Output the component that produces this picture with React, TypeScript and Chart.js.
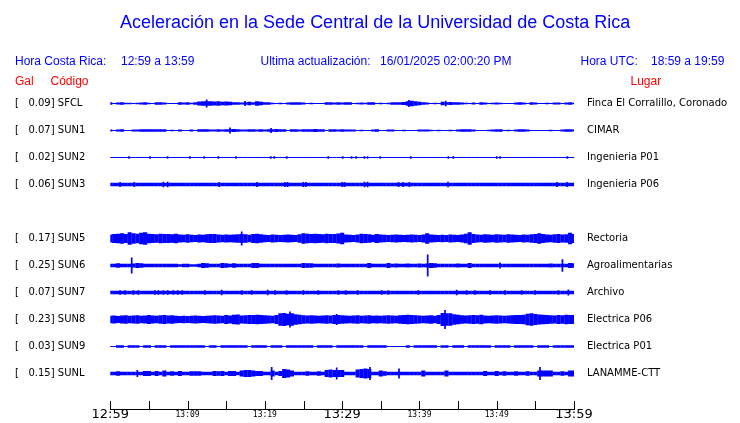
import React, { useEffect, useRef } from 'react';
import { Chart, registerables } from 'chart.js';

Chart.register(...registerables);

// ---------------- DATA ----------------
const CODES = ['SFCL', 'SUN1', 'SUN2', 'SUN3', 'SUN5', 'SUN6', 'SUN7', 'SUN8', 'SUN9', 'SUNL'];
const PEAK_GAL = [0.09, 0.07, 0.02, 0.06, 0.17, 0.25, 0.07, 0.23, 0.03, 0.15];
const PLACES = [
  'Finca El Corralillo, Coronado',
  'CIMAR',
  'Ingenieria P01',
  'Ingenieria P06',
  'Rectoria',
  'Agroalimentarias',
  'Archivo',
  'Electrica P06',
  'Electrica P01',
  'LANAMME-CTT',
];
const TIME_TICKS = ['12:59', '13:04', '13:09', '13:14', '13:19', '13:24', '13:29', '13:34', '13:39', '13:44', '13:49', '13:54', '13:59'];
const LABELED_TICKS = ['12:59', '13:09', '13:19', '13:29', '13:39', '13:49', '13:59'];
const MAJOR_TICKS = ['12:59', '13:29', '13:59'];

// envelope (half amplitude, mGal) of each trace, one value every 30 s from 12:59 to 13:59
const SFCL = [30,12,25,30,16,16,12,16,25,30, 16,12,30,30,25,12,12,12,30,25, 30,16,30,45,52,52,52,45,52,40, 45,40,30,30,25,30,40,30,52,40, 30,30,16,12,16,12,25,30,30,30, 25,12,16,12,12,12,30,30,25,30, 25,30,30,12,16,25,16,30,30,12, 16,12,16,30,30,30,35,52,60,50, 40,30,25,12,16,12,40,30,35,30, 30,25,16,12,25,12,30,25,12,16, 25,16,12,12,12,25,30,25,12,30, 25,12,12,16,12,25,25,12,25,30, 16];
const SUN1 = [25,12,25,30,12,12,25,25,30,30, 30,30,30,30,30,12,16,12,25,12, 12,25,12,30,30,30,25,25,30,25, 30,30,35,30,25,25,30,30,25,30, 25,30,30,35,30,30,12,30,30,25, 30,30,30,35,30,30,12,30,30,25, 30,25,25,25,12,16,12,12,25,30, 12,12,25,25,12,12,16,12,12,12, 25,25,25,16,12,16,12,12,16,12, 25,30,30,30,25,12,12,12,16,25, 30,30,12,16,12,25,30,30,25,12, 12,12,12,12,16,12,12,25,30,30, 25];
const SUN2 = [12,12,12,12,12,12,12,12,12,12, 12,12,12,12,12,12,12,12,12,12, 12,12,12,12,12,12,12,12,12,12, 12,12,12,12,12,12,12,12,12,12, 12,12,12,12,12,12,12,12,12,12, 12,12,12,12,12,12,12,12,12,12, 12,12,12,12,12,12,12,12,12,12, 12,12,12,12,12,12,12,12,12,12, 12,12,12,12,12,12,12,12,12,12, 12,12,12,12,12,12,12,12,12,12, 12,12,12,12,12,12,12,12,12,12, 12,12,12,12,12,12,12,12,12,12, 12];
const SUN3 = [37,37,37,37,37,37,37,37,37,37, 37,37,37,37,37,37,37,37,37,37, 37,37,37,37,37,37,37,37,37,37, 37,37,37,37,37,37,37,37,37,37, 37,37,37,37,37,37,37,37,37,37, 37,37,37,37,37,37,37,37,37,37, 37,37,37,37,37,37,37,37,37,37, 37,37,37,37,37,37,37,37,37,37, 37,37,37,37,37,37,37,37,37,37, 37,37,37,37,37,37,37,37,37,37, 37,37,37,37,37,37,37,37,37,37, 37,37,37,37,37,37,37,37,37,37, 37];
const SUN5 = [90,100,110,120,100,140,120,110,130,140, 110,100,95,110,100,105,95,110,90,85, 95,85,80,90,85,95,100,105,90,85, 90,85,90,95,100,95,85,100,110,95, 85,80,90,85,80,85,90,85,80,95, 120,110,105,110,100,95,110,105,100,115, 130,90,85,80,90,110,105,95,85,100, 90,85,80,85,90,85,80,85,90,85, 80,90,120,90,85,80,85,80,90,85, 80,90,110,140,100,90,85,95,90,85, 95,90,85,95,90,85,80,90,85,95, 100,120,100,90,85,95,100,90,95,130, 105];
const SUN6 = [38,38,50,38,38,38,45,55,50,38, 38,38,38,38,38,38,38,38,30,38, 38,30,30,38,55,50,38,38,38,55, 50,38,50,38,38,38,38,55,55,38, 38,38,38,38,38,38,38,38,38,38, 55,50,50,38,38,38,38,38,38,45, 38,38,38,38,38,38,38,55,38,38, 38,38,55,38,45,38,38,45,38,38, 45,38,45,55,50,38,38,38,38,38, 45,38,38,55,38,38,38,38,38,38, 38,38,38,38,38,38,38,38,38,38, 38,38,38,38,45,38,38,38,38,55, 50];
const SUN7 = [38,38,38,38,38,38,38,38,38,38, 38,38,38,38,38,38,38,38,38,38, 38,38,38,38,38,38,38,38,38,38, 38,38,38,38,38,38,38,38,38,38, 38,38,38,38,38,38,38,38,38,38, 38,38,38,38,38,38,38,38,38,38, 38,38,38,38,38,38,38,38,38,38, 38,38,38,38,38,38,38,38,38,38, 38,38,38,38,38,38,38,38,38,38, 38,38,38,38,38,38,38,38,38,38, 38,38,38,38,38,38,38,38,38,38, 38,38,38,38,38,38,38,38,38,38, 38];
const SUN8 = [85,90,80,90,95,85,90,95,85,90, 100,90,85,95,100,90,95,85,80,85, 80,85,90,85,80,85,90,95,90,85, 100,90,110,115,90,95,100,105,110,100, 95,90,85,100,140,150,130,140,120,110, 95,90,95,90,85,90,95,90,100,100, 95,90,85,90,95,85,90,95,85,90, 85,90,95,90,85,95,105,110,100,95, 90,85,90,95,85,100,150,140,140,120, 110,95,90,95,100,95,110,90,85,90, 95,90,85,90,95,100,105,110,130,140, 125,115,110,100,95,90,100,95,110,105, 100];
const SUN9 = [14,14,30,30,14,30,30,30,14,30, 30,14,30,30,30,14,30,30,30,30, 30,30,30,30,30,14,30,30,14,30, 30,30,30,30,30,30,14,30,30,30, 30,14,30,30,30,14,30,30,30,30, 30,30,30,14,30,30,30,30,14,30, 30,30,30,30,30,30,14,30,30,30, 30,30,14,14,14,14,14,30,14,30, 30,30,30,30,30,14,30,30,14,30, 30,30,14,30,30,30,30,30,30,14, 30,30,30,30,14,30,30,30,30,30, 14,30,30,30,14,30,30,30,30,30, 30];
const SUNL = [38,38,52,38,38,38,38,38,38,57, 57,38,57,38,68,38,52,38,57,38, 38,52,52,52,38,38,38,57,52,57, 38,57,57,38,68,80,80,68,57,57, 38,38,68,38,57,102,90,68,38,38, 38,52,38,38,52,38,80,90,80,80, 80,38,38,38,90,102,114,100,38,38, 68,52,38,38,38,38,38,38,38,38, 38,68,38,38,38,38,38,68,38,38, 38,38,38,38,38,38,38,57,38,38, 57,38,52,38,38,52,38,38,52,38, 38,68,68,68,68,38,38,52,38,68, 68];

// narrow isolated peaks: [minutes after 12:59, half amplitude mGal]
const SFCL_PEAKS = [[12.47, 90], [17.43, 57], [38.65, 80], [43.4, 60]];
const SUN1_PEAKS = [[15.49, 70], [20.8, 55]];
const SUN2_PEAKS = [[2.42, 28], [5.14, 26], [7.42, 30], [10.3, 26], [12.17, 26], [13.98, 26], [16.27, 26], [20.75, 30], [21.22, 28], [22.82, 26], [28.2, 28], [30.07, 26], [31.23, 26], [31.8, 28], [32.87, 28], [33.3, 28], [34.94, 26], [38.87, 26], [43.74, 28], [44.38, 28], [50.0, 30], [50.43, 28], [59.14, 26]];
const SUN3_PEAKS = [[1.26, 55], [3.1, 58], [6.86, 60], [7.42, 64], [14.1, 55], [19.0, 58], [22.6, 56], [22.95, 56], [24.97, 58], [25.3, 55], [30.0, 58], [30.3, 58], [32.9, 60], [33.3, 60], [37.3, 56], [37.9, 58], [38.7, 58], [43.7, 60], [57.8, 55], [59.1, 58]];
const SUN5_PEAKS = [[17.0, 160]];
const SUN6_PEAKS = [[2.77, 180], [41.07, 250], [50.43, 68], [58.5, 140]];
const SUN7_PEAKS = [[1.26, 50], [1.9, 50], [2.98, 50], [3.63, 50], [5.78, 50], [6.22, 50], [6.86, 50], [7.42, 50], [8.16, 50], [8.72, 50], [9.32, 50], [12.25, 50], [14.41, 60], [17.0, 50], [18.29, 50], [20.36, 60], [21.31, 50], [22.82, 50], [24.98, 50], [26.92, 50], [29.51, 50], [30.46, 50], [32.01, 50], [35.11, 50], [35.98, 50], [39.86, 50], [44.82, 60], [46.11, 50], [47.19, 50], [49.13, 50], [51.07, 50], [53.23, 50], [54.96, 50], [57.98, 50], [59.27, 68]];
const SUN8_PEAKS = [[23.25, 180], [29.29, 125], [43.31, 215]];
const SUN9_PEAKS: number[][] = [];
const SUNL_PEAKS = [[3.5, 80], [20.88, 148], [29.29, 136], [33.6, 148], [37.36, 114], [55.6, 148]];

const TRACES = [SFCL, SUN1, SUN2, SUN3, SUN5, SUN6, SUN7, SUN8, SUN9, SUNL];
const PEAKS = [SFCL_PEAKS, SUN1_PEAKS, SUN2_PEAKS, SUN3_PEAKS, SUN5_PEAKS, SUN6_PEAKS, SUN7_PEAKS, SUN8_PEAKS, SUN9_PEAKS, SUNL_PEAKS];

// ---------------- LAYOUT / STYLE ----------------
const STEP_MIN = 0.5; // sample spacing (minutes)
const ROW_SLOT = [0, 1, 2, 3, 5, 6, 7, 8, 9, 10];
const MGAL_PER_ROW = 614;
const Y_MIN = -0.537;
const Y_MAX = Y_MIN + 320 / 27;
const BLUE = '#0000ff';
const RED = '#ff0000';

const HEADER = [
  { text: 'Aceleración en la Sede Central de la Universidad de Costa Rica', x: 120, y: 15, size: 18, color: BLUE },
  { text: 'Hora Costa Rica:', x: 15, y: 53.5, size: 12, color: BLUE },
  { text: '12:59 a 13:59', x: 121, y: 53.5, size: 12, color: BLUE },
  { text: 'Ultima actualización:', x: 260.5, y: 53.5, size: 12, color: BLUE },
  { text: '16/01/2025 02:00:20 PM', x: 380, y: 53.5, size: 12, color: BLUE },
  { text: 'Hora UTC:', x: 580.5, y: 53.5, size: 12, color: BLUE },
  { text: '18:59 a 19:59', x: 651, y: 53.5, size: 12, color: BLUE },
  { text: 'Gal', x: 15, y: 73.5, size: 12, color: RED },
  { text: 'Código', x: 50.5, y: 73.5, size: 12, color: RED },
  { text: 'Lugar', x: 630.5, y: 73.5, size: 12, color: RED },
];

const tickMarks = {
  id: 'tickMarks',
  afterDraw(chart: any) {
    const s = chart.scales.x;
    const ctx = chart.ctx;
    ctx.save();
    ctx.strokeStyle = '#000';
    ctx.lineWidth = 1;
    s.ticks.forEach((t: any) => {
      const px = Math.round(s.getPixelForValue(t.value)) + 0.5;
      ctx.beginPath();
      ctx.moveTo(px, s.top - 8);
      ctx.lineTo(px, s.top);
      ctx.stroke();
    });
    ctx.restore();
  },
};

const noPad = (s: any) => {
  s.paddingTop = 0;
  s.paddingBottom = 0;
  s.paddingLeft = 0;
  s.paddingRight = 0;
};

export default function App() {
  const ref = useRef<HTMLCanvasElement>(null);

  useEffect(() => {
    const barCommon = {
      type: 'bar' as const,
      backgroundColor: BLUE,
      borderWidth: 0,
      borderSkipped: false,
      inflateAmount: 0,
      grouped: false,
      yAxisID: 'y',
    };
    const span = (row: number, a: number) => [row - a / MGAL_PER_ROW, row + a / MGAL_PER_ROW];
    const datasets: any[] = [];
    TRACES.forEach((amps, k) => {
      const row = ROW_SLOT[k];
      datasets.push({
        ...barCommon,
        label: CODES[k],
        barThickness: 4.1,
        data: amps.map((a, i) => ({ x: i * STEP_MIN, y: span(row, a) })),
      });
      if (PEAKS[k].length) {
        datasets.push({
          ...barCommon,
          label: CODES[k] + ' peaks',
          barThickness: 1.7,
          data: PEAKS[k].map(([t, a]) => ({ x: t, y: span(row, a) })),
        });
      }
    });

    const rowLabel = (v: number, arr: string[]) => {
      const k = ROW_SLOT.indexOf(v);
      return k < 0 ? '' : arr[k];
    };
    const leftText = CODES.map((c, k) => `[   ${PEAK_GAL[k].toFixed(2)}] ${c}`);

    const chart = new Chart(ref.current as HTMLCanvasElement, {
      type: 'bar',
      data: { datasets },
      plugins: [tickMarks],
      options: {
        animation: false,
        responsive: false,
        devicePixelRatio: 1,
        layout: { padding: { left: 15, top: 89, right: 0, bottom: 0 } },
        plugins: { legend: { display: false }, tooltip: { enabled: false }, title: { display: false } },
        scales: {
          x: {
            type: 'linear',
            position: 'bottom',
            min: 0,
            max: 60,
            offset: false,
            grid: { display: false, offset: false, drawTicks: false },
            border: { display: true, color: '#000', width: 1 },
            ticks: {
              stepSize: 5,
              autoSkip: false,
              maxRotation: 0,
              padding: 0,
              color: '#000',
              callback: (_v: any, i: number) => (LABELED_TICKS.includes(TIME_TICKS[i]) ? TIME_TICKS[i] : ''),
              font: (ctx: any) =>
                MAJOR_TICKS.includes(TIME_TICKS[ctx.index])
                  ? { family: 'DejaVu Sans', size: 13, lineHeight: 12 / 13 }
                  : { family: 'DejaVu Sans Mono', size: 8, lineHeight: 1.5 },
            },
            afterFit: (s: any) => {
              s.height = 14;
              noPad(s);
            },
          } as any,
          y: {
            type: 'linear',
            position: 'left',
            reverse: true,
            min: Y_MIN,
            max: Y_MAX,
            afterBuildTicks: (s: any) => {
              s.ticks = ROW_SLOT.map((v) => ({ value: v }));
            },
            grid: { display: false, drawTicks: false },
            border: { display: false },
            ticks: {
              autoSkip: false,
              crossAlign: 'far',
              padding: 0,
              color: '#000',
              font: { family: 'DejaVu Sans', size: 10 },
              callback: (v: any) => rowLabel(Number(v), leftText),
            },
            afterFit: (s: any) => {
              s.width = 95.3;
              noPad(s);
            },
          } as any,
          y2: {
            type: 'linear',
            position: 'right',
            reverse: true,
            min: Y_MIN,
            max: Y_MAX,
            afterBuildTicks: (s: any) => {
              s.ticks = ROW_SLOT.map((v) => ({ value: v }));
            },
            grid: { display: false, drawTicks: false },
            border: { display: false },
            ticks: {
              autoSkip: false,
              crossAlign: 'near',
              padding: 13,
              color: '#000',
              font: { family: 'DejaVu Sans', size: 10 },
              callback: (v: any) => rowLabel(Number(v), PLACES),
            },
            afterFit: (s: any) => {
              s.width = 166;
              noPad(s);
            },
          } as any,
        },
      },
    });
    return () => chart.destroy();
  }, []);

  return (
    <div style={{ position: 'absolute', left: 0, top: 0, width: 740, height: 423, background: '#fff', overflow: 'hidden' }}>
      <canvas ref={ref} width={740} height={423} style={{ position: 'absolute', left: 0, top: 0, width: 740, height: 423 }} />
      {HEADER.map((h, i) => (
        <span
          key={i}
          style={{
            position: 'absolute',
            left: h.x,
            top: h.y,
            fontFamily: '"Liberation Sans", Arial, sans-serif',
            fontSize: h.size,
            lineHeight: '14px',
            color: h.color,
            whiteSpace: 'pre',
          }}
        >
          {h.text}
        </span>
      ))}
    </div>
  );
}
